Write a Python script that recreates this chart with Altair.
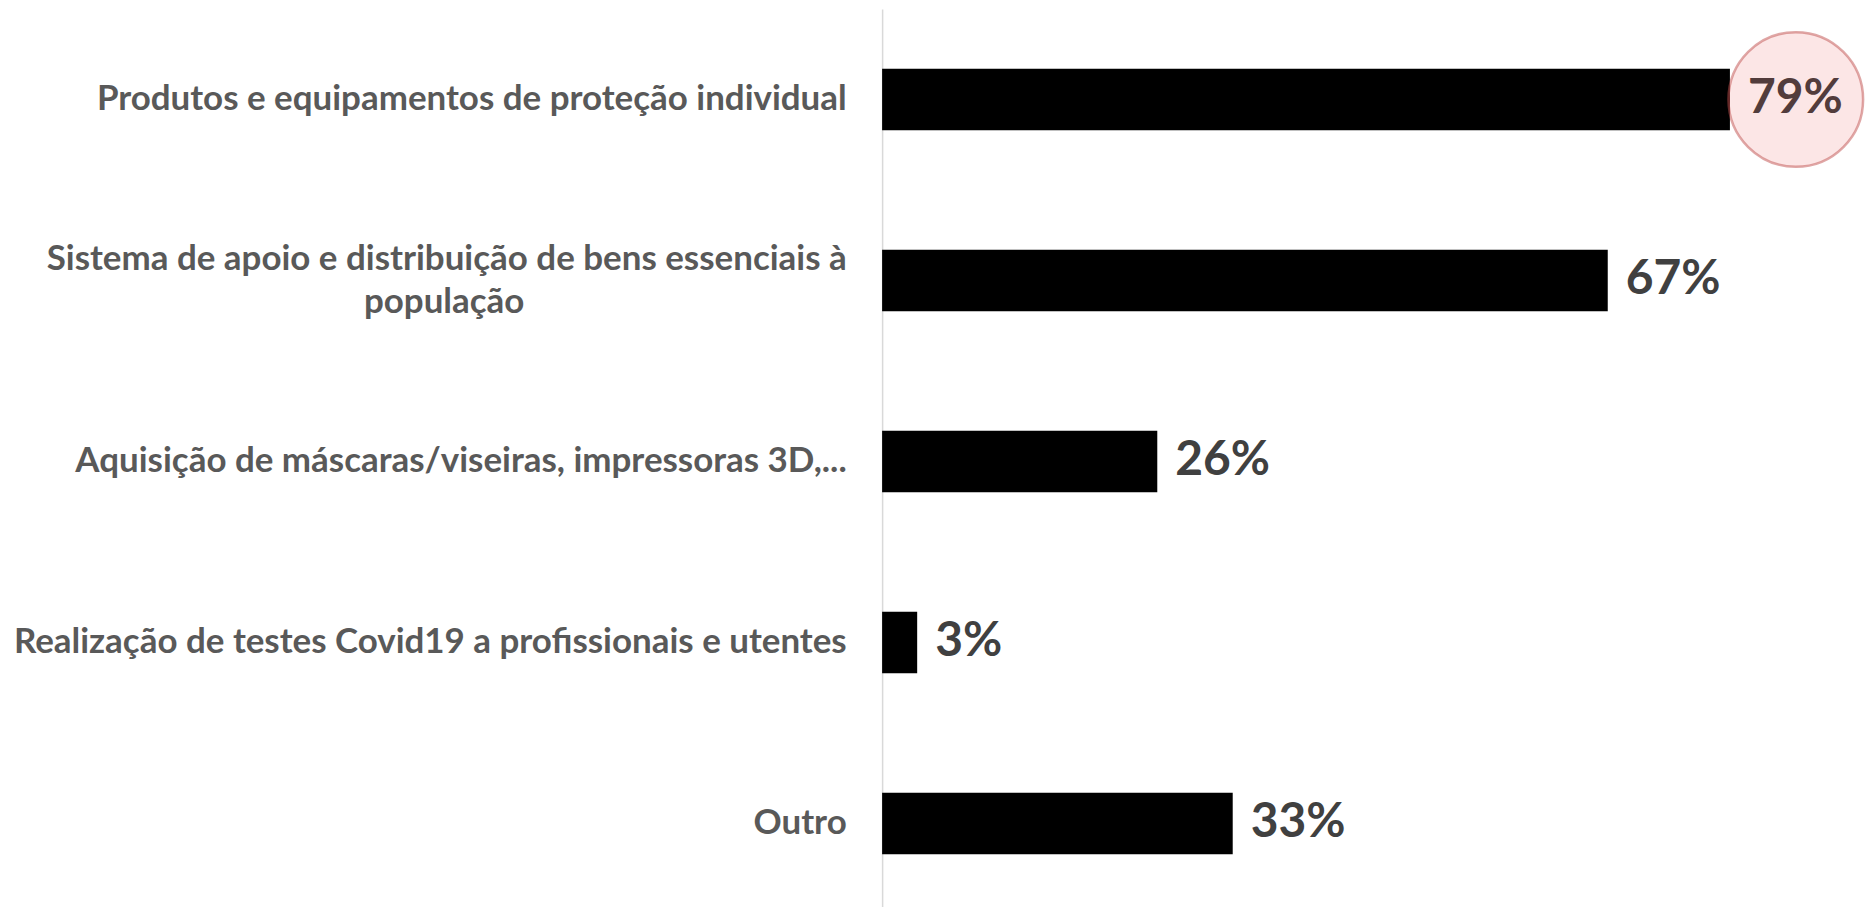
import altair as alt
import pandas as pd

categories = [
    "Produtos e equipamentos de proteção individual",
    "Sistema de apoio e distribuição de bens essenciais à|população",
    "Aquisição de máscaras/viseiras, impressoras 3D,...",
    "Realização de testes Covid19 a profissionais e utentes",
    "Outro",
]
values = [79.8, 68.3, 25.9, 3.3, 33.0]
value_labels = ["79%", "67%", "26%", "3%", "33%"]
highlight = [True, False, False, False, False]

NB = "\u00a0"
def fmt(c):
    parts = c.split("|")
    if len(parts) == 1:
        return c
    # centre second line under the first with non-breaking spaces (ZWSP stops trim)
    return [parts[0], parts[1] + NB * 38 + "\u200b"]

df = pd.DataFrame({
    "cat": [c.replace("|", " ") for c in categories],
    "pct": values,
    "hl": highlight,
    "label": value_labels,
})
label_map = {c.replace("|", " "): fmt(c) for c in categories}
order = list(df["cat"])

label_expr = ""
multi_test = []
for k, v in label_map.items():
    if isinstance(v, list):
        js = "[" + ",".join("'" + s + "'" for s in v) + "]"
        label_expr += f"datum.value == '{k}' ? {js} : "
        multi_test.append(f"datum.value == '{k}'")
label_expr += "datum.value"

y = alt.Y("cat:N", sort=order,
          scale=alt.Scale(paddingInner=0.66, paddingOuter=0.33),
          axis=alt.Axis(title=None, labelExpr=label_expr, labelFont="Lato",
                        labelFontWeight="bold", labelFontSize=35, labelColor="#595959",
                        labelPadding=36, ticks=False, domainColor="#d9d9d9",
                        domainWidth=1.5, labelLimit=1000, labelLineHeight=44,
                        labelOffset={"condition": {"test": " || ".join(multi_test),
                                                   "value": -22}, "value": 0}))
x = alt.X("pct:Q", scale=alt.Scale(domain=[0, 85]), axis=None)

base = alt.Chart(df)
bars = base.mark_bar(color="#000000").encode(x=x, y=y)
txt = base.mark_text(align="left", baseline="middle", dx=18, font="Lato",
                     fontWeight="bold", fontSize=48, color="#404040").encode(
    x=x, y=y, text="label:N")
circ = base.transform_filter("datum.hl").mark_point(
    shape="circle", filled=True, size=18200, fill="#e31a1c", fillOpacity=0.11,
    stroke="#c0504d", strokeWidth=2.5, strokeOpacity=0.5, xOffset=66).encode(x=x, y=y)

chart = alt.layer(bars, txt, circ).properties(
    width=905, height=907,
    autosize=alt.AutoSizeParams(type="none"),
    padding={"left": 876, "top": 0, "right": 80, "bottom": 0},
).configure_view(stroke=None)

chart.save("out.html", embed_options={"renderer": "svg", "actions": False})
